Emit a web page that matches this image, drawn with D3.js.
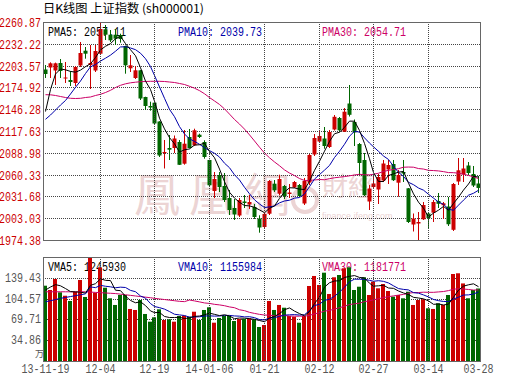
<!DOCTYPE html>
<html><head><meta charset="utf-8">
<script src="https://cdn.jsdelivr.net/npm/d3@7"></script>
<style>body{margin:0;background:#fff}svg{display:block}</style>
</head><body><svg id="c" width="530" height="391"></svg>
<script>
const dates = ["2013-11-19","2013-11-20","2013-11-21","2013-11-22","2013-11-25","2013-11-26","2013-11-27","2013-11-28","2013-11-29",
"2013-12-02","2013-12-03","2013-12-04","2013-12-05","2013-12-06","2013-12-09","2013-12-10","2013-12-11","2013-12-12","2013-12-13","2013-12-16","2013-12-17","2013-12-18","2013-12-19","2013-12-20","2013-12-23","2013-12-24","2013-12-25","2013-12-26","2013-12-27","2013-12-30","2013-12-31",
"2014-01-02","2014-01-03","2014-01-06","2014-01-07","2014-01-08","2014-01-09","2014-01-10","2014-01-13","2014-01-14","2014-01-15","2014-01-16","2014-01-17","2014-01-20","2014-01-21","2014-01-22","2014-01-23","2014-01-24","2014-01-27","2014-01-28","2014-01-29","2014-01-30",
"2014-02-07","2014-02-10","2014-02-11","2014-02-12","2014-02-13","2014-02-14","2014-02-17","2014-02-18","2014-02-19","2014-02-20","2014-02-21","2014-02-24","2014-02-25","2014-02-26","2014-02-27","2014-02-28",
"2014-03-03","2014-03-04","2014-03-05","2014-03-06","2014-03-07","2014-03-10","2014-03-11","2014-03-12","2014-03-13","2014-03-14","2014-03-17","2014-03-18","2014-03-19","2014-03-20","2014-03-21","2014-03-24","2014-03-25","2014-03-26","2014-03-27","2014-03-28"];

const open = [2198.45,2201.07,2197.13,2206.99,2186.62,2184.65,2180.70,2203.70,2223.15,2204.36,
2197.13,2219.21,2251.28,2244.18,2244.18,2243.78,2229.33,2200.02,2187.28,2197.39,
2162.31,2150.48,2154.82,2130.11,2088.71,2095.28,2095.28,2103.17,2074.65,2109.74,
2098.83,2112.76,2103.17,2079.51,2038.77,2059.80,2045.34,2029.57,2016.43,2006.58,
2024.98,2021.03,2017.75,2002.63,1991.46,2008.94,2048.37,2035.23,2045.34,2034.83,
2043.37,2046.66,2022.35,2049.94,2086.74,2103.83,2107.77,2096.60,2119.60,2134.71,
2116.70,2153.76,2129.45,2100.54,2079.51,2024.98,2044.03,2040.75,2052.57,2067.03,
2074.26,2049.68,2063.74,2042.32,1994.75,1996.06,2001.58,2009.21,2010.26,2025.63,
2020.11,2018.40,1987.78,2051.26,2060.46,2072.29,2061.11,2048.63];
const close = [2192.53,2206.59,2206.59,2196.47,2187.93,2182.02,2201.73,2220.13,2219.21,2206.99,
2222.76,2251.67,2244.18,2236.82,2238.92,2238.53,2203.97,2203.97,2197.39,2160.33,
2150.48,2148.51,2127.48,2085.43,2090.03,2093.05,2107.77,2073.21,2100.93,2095.28,
2118.54,2109.74,2083.46,2046.26,2054.54,2044.03,2026.95,2013.80,2007.89,2026.95,
2023.00,2024.32,2004.61,1990.81,2008.55,2051.92,2039.69,2054.54,2032.20,2036.80,
2050.60,2032.20,2051.92,2086.08,2108.43,2111.05,2097.91,2116.31,2136.29,2118.54,
2142.99,2138.91,2115.65,2075.57,2033.25,2042.06,2048.63,2057.17,2074.91,2072.94,
2052.97,2059.80,2061.77,1998.03,2002.63,1998.03,2020.38,2003.29,2024.32,2021.95,
2022.61,1995.10,2047.97,2065.98,2068.34,2062.43,2046.00,2042.80];
const high = [2204.36,2207.91,2207.50,2212.24,2208.30,2196.47,2203.05,2234.59,2228.01,2230.64,
2230.64,2260.87,2256.93,2250.36,2251.67,2245.49,2229.80,2217.50,2203.05,2197.79,
2162.70,2156.13,2155.74,2130.50,2105.80,2112.37,2111.71,2105.80,2118.94,2120.25,
2120.65,2114.08,2105.40,2080.00,2063.74,2063.74,2062.43,2040.09,2028.26,2029.57,
2033.52,2033.52,2021.69,2006.84,2009.86,2053.23,2053.23,2060.19,2046.66,2047.97,
2051.92,2047.97,2055.86,2087.40,2113.68,2118.94,2122.88,2118.94,2138.65,2136.02,
2147.85,2178.08,2132.74,2101.85,2088.71,2046.66,2057.17,2061.11,2079.51,2079.51,
2079.51,2066.37,2079.51,2042.72,2009.21,2011.18,2024.32,2010.26,2026.95,2036.15,
2024.32,2030.89,2049.29,2082.14,2082.14,2076.88,2071.63,2058.49];
const low = [2187.28,2187.28,2178.08,2187.28,2180.70,2176.76,2176.76,2201.73,2212.64,2172.82,
2195.16,2217.50,2237.21,2234.59,2230.64,2233.67,2192.93,2195.16,2185.96,2158.36,
2145.22,2144.30,2126.82,2083.46,2068.34,2079.51,2088.71,2072.94,2073.34,2094.63,
2097.91,2108.43,2081.22,2044.03,2029.57,2037.46,2024.32,2007.23,2000.66,2004.61,
2016.43,2015.12,2001.98,1983.97,1988.84,2007.23,2037.46,2033.12,2028.26,2029.57,
2042.72,2030.89,2020.38,2046.66,2084.77,2101.85,2094.36,2095.28,2118.28,2116.97,
2116.31,2136.68,2097.91,2059.80,2032.20,2013.80,2041.40,2021.69,2050.60,2047.97,
2051.92,2031.28,2050.60,1996.72,1985.55,1974.38,2000.66,1989.76,1998.03,2016.43,
2001.98,1992.78,1986.21,2046.66,2050.60,2059.80,2044.03,2036.15];
// volume in 万手
const volume = [126.2,119.0,137.4,115.1,109.4,100.6,116.1,135.8,107.3,174.29,
114.5,157.0,122.8,105.1,93.9,110.6,110.6,87.2,85.5,102.2,
78.8,65.9,73.2,86.6,68.7,69.9,65.9,75.4,75.9,74.2,
82.6,68.7,85.5,90.0,64.2,72.1,75.4,75.4,67.0,70.4,
70.4,71.6,69.9,57.0,60.3,100.6,85.5,93.9,89.3,75.4,
74.2,64.2,75.4,125.7,142.5,127.4,148.0,112.3,140.3,144.1,
155.4,157.0,119.0,124.5,140.3,110.6,132.9,121.8,129.0,117.3,
107.8,110.6,105.1,116.1,93.9,102.2,103.4,88.3,87.2,96.7,
93.9,110.6,145.8,147.0,130.0,105.1,119.0,121.5];

// moving-average values for the first days (their windows start before the chart)
const ma5Head = [2143.25,2172.16,2192.53,2199.10];
const ma10Head = [2133.00,2138.65,2145.22,2151.79,2157.71,2166.25,2175.05,2183.33,2193.19];
const ma30Head = [2165.33,2165.20,2164.28,2162.96,2161.65,2160.60,2160.33,2160.60,2161.65,2162.31,
2164.28,2165.85,2168.22,2171.11,2174.79,2177.68,2179.65,2180.97,2181.76,2182.41,
2182.68,2182.94,2182.94,2182.94,2182.68,2182.02,2181.36,2180.05,2178.73];
const vma5Head = [119.0,124.0,128.0,126.0];
const vma10Head = [99.4,101.0,103.0,105.0,106.5,108.0,109.5,111.0,112.5];
const vma30Head = [116,116,116,116,116,116,116,116,116,115.5,115,114.5,114,113.5,113,112,111,110,109,108,107,106,105,104,103,102,101,100,99.5];

const priceTicks = [2260.87,2232.22,2203.57,2174.92,2146.28,2117.63,2088.98,2060.33,2031.68,2003.03,1974.38];
const volTicks = [139.43,104.57,69.71,34.86];
const volMax = 174.29;
const dateTickIdx = [0,11,22,33,44,55,66,77,87];
const dateTickLabels = ["13-11-19","12-04","12-19","14-01-06","01-21","02-12","02-27","03-14","03-28"];
const priceLegend = ["PMA5: 2057.11","PMA10: 2039.73","PMA30: 2054.71"];
const volLegend = ["VMA5: 1245930","VMA10: 1155984","VMA30: 1181771"];
const title = "日K线图 上证指数 (sh000001)";

const C = {red:"#cc0000", green:"#006600", ma5:"#000000", ma10:"#0000aa", ma30:"#cc0066", grid:"#444", frame:"#666", axisGray:"#555"};

const svg = d3.select("#c");
const L = 43, R = 481, PT = 22, PB = 240, VT = 257, VB = 361;
const n = close.length;
const x = d3.scaleBand().domain(d3.range(n)).range([L, R]);
const cx = i => Math.round(x(i) + x.bandwidth()/2 - 0.5) + 0.5;
const yP = d3.scaleLinear().domain([d3.min(low), d3.max(high)]).range([PB, PT]);
const yV = d3.scaleLinear().domain([0, volMax]).range([VB, VT]);

function movAvg(arr, w, head){
  return arr.map((_, i) => i < w-1 ? head[i] : d3.mean(arr.slice(i-w+1, i+1)));
}
function mono(g, xs, y, s, color, anchor){
  const w = s.length*6;
  let x0 = xs;
  if(anchor === "end") x0 = xs - w;
  if(anchor === "middle") x0 = xs - w/2;
  return g.append("text").attr("x", x0).attr("y", y).text(s)
    .attr("font-family","'Liberation Mono','DejaVu Sans Mono',monospace").attr("font-size",12)
    .attr("textLength", w).attr("lengthAdjust","spacingAndGlyphs").attr("fill", color);
}

// title
svg.append("text").attr("x",43).attr("y",13).text(title)
  .attr("font-family","'Noto Sans CJK SC',sans-serif").attr("font-size",12)
  .attr("textLength",161).attr("lengthAdjust","spacingAndGlyphs").attr("fill","#000");

// watermark
const wm = svg.append("g").attr("fill","#ecd4d4");
wm.append("text").attr("x",134).attr("y",211).text("鳳凰網")
  .attr("font-family","'Noto Sans CJK TC',serif").attr("font-size",46).attr("textLength",156).attr("lengthAdjust","spacing");
wm.append("circle").attr("cx",305).attr("cy",200).attr("r",12).attr("fill","none").attr("stroke","#ecd4d4").attr("stroke-width",4);
wm.append("text").attr("x",322).attr("y",196).text("財經")
  .attr("font-family","'Noto Sans CJK TC',serif").attr("font-size",26);
wm.append("text").attr("x",322).attr("y",219).text("finance.ifeng.com")
  .attr("font-family","'Liberation Sans',sans-serif").attr("font-size",9);

// horizontal grid
const gGrid = svg.append("g").attr("stroke",C.grid).attr("stroke-dasharray","1,1").attr("stroke-width",1);
priceTicks.slice(1, -1).forEach(v => {
  const y = Math.round(yP(v)) + 0.5;
  gGrid.append("line").attr("x1",L).attr("x2",R).attr("y1",y).attr("y2",y);
});
volTicks.forEach(v => {
  const y = Math.round(yV(v)) + 0.5;
  gGrid.append("line").attr("x1",L).attr("x2",R).attr("y1",y).attr("y2",y);
});

// axis labels
const gAx = svg.append("g");
priceTicks.forEach(v => mono(gAx, 41, Math.round(yP(v)) + 5, v.toFixed(2), C.red, "end"));
volTicks.forEach(v => mono(gAx, 41, Math.round(yV(v)) + 4, v.toFixed(2), C.axisGray, "end"));
mono(gAx, 41, VB - 4, "万", C.axisGray, "end").attr("textLength", 9).attr("font-family","'Noto Sans CJK SC',sans-serif").attr("font-size",9);
dateTickIdx.forEach((idx, k) => mono(gAx, cx(idx), 373, dateTickLabels[k], C.axisGray, "middle"));

// legends (drawn beneath the marks)
const legColors = [C.ma5, C.ma10, C.ma30];
const legX = [48, 178, 322];
priceLegend.forEach((s, k) => mono(svg, legX[k], 36, s, legColors[k]));
volLegend.forEach((s, k) => mono(svg, legX[k], 271, s, legColors[k]));

// candles
const up = i => close[i] >= open[i];
const gC = svg.append("g");
d3.range(n).forEach(i => {
  const col = up(i) ? C.red : C.green;
  const xc = cx(i);
  gC.append("line").attr("x1",xc).attr("x2",xc).attr("y1",yP(high[i])).attr("y2",yP(low[i])).attr("stroke",col).attr("stroke-width",1);
  const yTop = yP(Math.max(open[i], close[i])), yBot = yP(Math.min(open[i], close[i]));
  gC.append("rect").attr("x", xc - 1.5 - 0.5).attr("width", 4).attr("y", yTop).attr("height", Math.max(1, yBot - yTop)).attr("fill", col);
});

// volume bars
const gV = svg.append("g");
d3.range(n).forEach(i => {
  const xc = cx(i);
  gV.append("rect").attr("x", xc - 2.5).attr("width", 4).attr("y", yV(volume[i])).attr("height", VB - yV(volume[i])).attr("fill", up(i) ? C.red : C.green);
});

// moving averages
const lineP = d3.line().x((d, i) => cx(i)).y(d => yP(d));
const lineV = d3.line().x((d, i) => cx(i)).y(d => yV(d));
[[movAvg(close,30,ma30Head),C.ma30],[movAvg(close,10,ma10Head),C.ma10],[movAvg(close,5,ma5Head),C.ma5]].forEach(([s,c]) =>
  svg.append("path").attr("d", lineP(s)).attr("fill","none").attr("stroke",c).attr("stroke-width",1));
[[movAvg(volume,30,vma30Head),C.ma30],[movAvg(volume,10,vma10Head),C.ma10],[movAvg(volume,5,vma5Head),C.ma5]].forEach(([s,c]) =>
  svg.append("path").attr("d", lineV(s)).attr("fill","none").attr("stroke",c).attr("stroke-width",1));

// vertical grid
const gVG = svg.append("g").attr("stroke",C.grid).attr("stroke-dasharray","1,1").attr("stroke-width",1);
dateTickIdx.slice(1, -1).forEach(idx => {
  const xx = cx(idx);
  gVG.append("line").attr("x1",xx).attr("x2",xx).attr("y1",PT).attr("y2",PB);
  gVG.append("line").attr("x1",xx).attr("x2",xx).attr("y1",VT).attr("y2",VB);
});

// frames
svg.append("rect").attr("x",L+0.5).attr("y",PT+0.5).attr("width",R-L-1).attr("height",PB-PT).attr("fill","none").attr("stroke",C.frame);
svg.append("rect").attr("x",L+0.5).attr("y",VT+0.5).attr("width",R-L-1).attr("height",VB-VT).attr("fill","none").attr("stroke",C.frame);
</script></body></html>
